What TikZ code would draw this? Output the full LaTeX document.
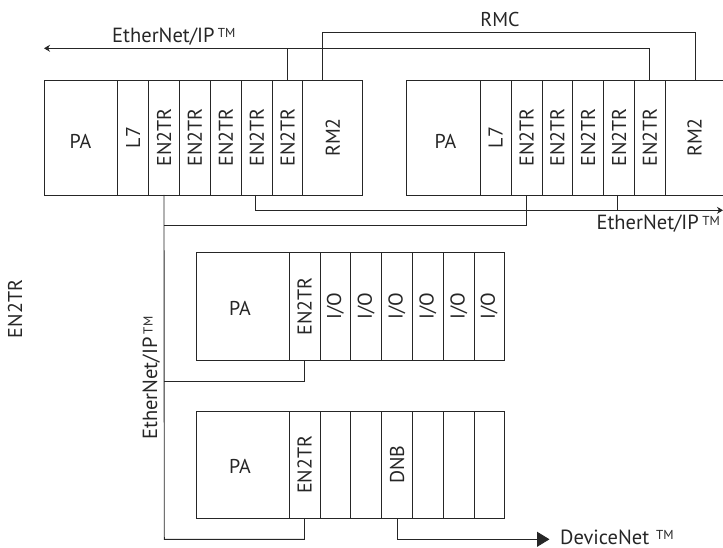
\documentclass[tikz,border=0pt]{standalone}
\usepackage{fontspec}
\setmainfont{PT Sans}
\usetikzlibrary{arrows.meta}
\tikzset{
  x=1pt,y=-1pt,
  slot/.style={draw=black!85,line width=0.9pt,inner sep=0,outer sep=0,minimum height=#1,anchor=north west},
  rot/.style={rotate=90,font=\fontsize{20}{22}\selectfont,inner sep=0,text=black!85},
  lbl/.style={font=\fontsize{20}{22}\selectfont,inner sep=0,text=black!85},
  net/.style={font=\fontsize{20.5}{22}\selectfont,inner sep=0,text=black!85},
  wire/.style={draw=black!85,line width=0.9pt},
  small/.style={-{Stealth[length=6pt,width=7pt]}},
  big/.style={-{Triangle[length=12.5pt,width=15pt]}},
}
\newcommand{\slotnode}[6]{% name, x left, x right, y top, height, rotated text
  \node[slot=#5,minimum width={(#3-#2)*1pt},label={[rot]center:#6}] (#1) at (#2,#4) {};}
\newcommand{\tmark}{\raisebox{4.5pt}{\fontsize{13}{13}\selectfont TM}}
\begin{document}
\begin{tikzpicture}
\useasboundingbox (0,0) rectangle (723,548);
% rack 1
\node[slot=115,minimum width=73.4pt] (a0) at (44.3,80) {};
\node[lbl] (a0t) at (80.5,141.5) {PA};
\slotnode{a1}{117.7}{148.7}{80}{115}{L7}
\slotnode{a2}{148.7}{179.3}{80}{115}{EN2TR}
\slotnode{a3}{179.3}{210.3}{80}{115}{EN2TR}
\slotnode{a4}{210.3}{241.3}{80}{115}{EN2TR}
\slotnode{a5}{241.3}{272.3}{80}{115}{EN2TR}
\slotnode{a6}{272.3}{302.7}{80}{115}{EN2TR}
\slotnode{a7}{302.7}{362.7}{80}{115}{RM2}
% rack 2
\node[slot=115,minimum width=74pt] (b0) at (406.3,80) {};
\node[lbl] (b0t) at (445.5,141.5) {PA};
\slotnode{b1}{480.3}{511}{80}{115}{L7}
\slotnode{b2}{511}{542}{80}{115}{EN2TR}
\slotnode{b3}{542}{572.7}{80}{115}{EN2TR}
\slotnode{b4}{572.7}{603.7}{80}{115}{EN2TR}
\slotnode{b5}{603.7}{634.7}{80}{115}{EN2TR}
\slotnode{b6}{634.7}{665}{80}{115}{EN2TR}
\slotnode{b7}{665}{724}{80}{115}{RM2}
% rack 3
\node[slot=107.6,minimum width=93pt] (c0) at (196,252.7) {};
\node[lbl] (c0t) at (240,308) {PA};
\slotnode{c1}{289}{320}{252.7}{107.6}{EN2TR}
\slotnode{c2}{320}{350.7}{252.7}{107.6}{I/O}
\slotnode{c3}{350.7}{381.7}{252.7}{107.6}{I/O}
\slotnode{c4}{381.7}{412.3}{252.7}{107.6}{I/O}
\slotnode{c5}{412.3}{443.3}{252.7}{107.6}{I/O}
\slotnode{c6}{443.3}{474.3}{252.7}{107.6}{I/O}
\slotnode{c7}{474.3}{504}{252.7}{107.6}{I/O}
% rack 4
\node[slot=107.6,minimum width=93pt] (d0) at (196,411) {};
\node[lbl] (d0t) at (240,466.5) {PA};
\slotnode{d1}{289}{320}{411}{107.6}{EN2TR}
\slotnode{d2}{320}{350.7}{411}{107.6}{}
\slotnode{d3}{350.7}{381.7}{411}{107.6}{}
\slotnode{d4}{381.7}{412.3}{411}{107.6}{DNB}
\slotnode{d5}{412.3}{443.3}{411}{107.6}{}
\slotnode{d6}{443.3}{474.3}{411}{107.6}{}
\slotnode{d7}{474.3}{504}{411}{107.6}{}
% free ends
\coordinate (eipL) at (44,48.3);
\coordinate (rmcY) at (0,32.3);
\coordinate (eipR) at (723,210.3);
\coordinate (dnet) at (549.5,539.3);
% connectors
\draw[wire,small] (a6.north) |- (eipL);
\draw[wire] (a6.north |- eipL) -| (b6.north);
\coordinate (rmcA) at ([xshift=-10.4pt]a7.north);
\coordinate (rmcB) at ([xshift=1.2pt]b7.north);
\draw[wire] (rmcA) |- (rmcY -| rmcB) -- (rmcB);
\draw[wire,small] ([xshift=-1.8pt]a5.south) |- (eipR);
\draw[wire] ([xshift=-1.5pt]b5.south) -- ++(0,15.3);
\draw[wire] (a2.south) -- (164.3,539.3) -| (d1.south);
\draw[wire] (164.3,225.7) -| (b2.south);
\draw[wire] (164.3,381.7) -| (c1.south);
\draw[wire,big] (d4.south) |- (dnet);
% labels
\node[net,anchor=base west] (t1) at (112,42.5) {EtherNet/IP\,\tmark};
\node[lbl] (t2) at (500,20) {RMC};
\node[net,anchor=base east] (t3) at (720,230) {EtherNet/IP\,\tmark};
\node[net,anchor=base west,rotate=90] (t4) at (157,440) {EtherNet/IP\,\tmark};
\node[net,anchor=base west] (t5) at (560,544) {DeviceNet\,\,\tmark};
\node[rot] (t6) at (15,309) {EN2TR};
\end{tikzpicture}
\end{document}
